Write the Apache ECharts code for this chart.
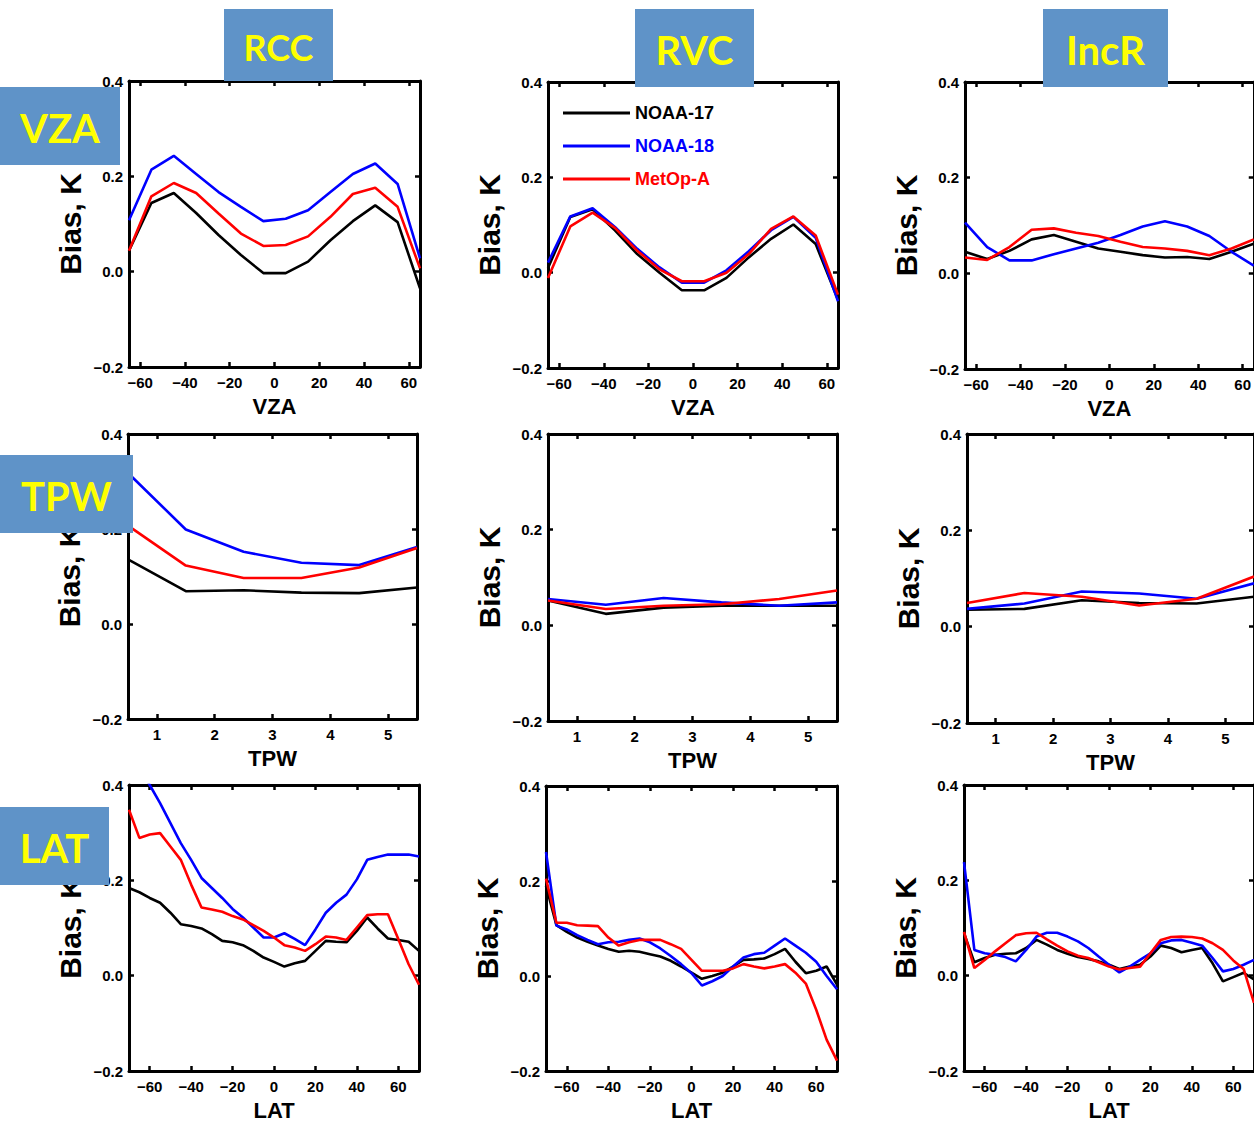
<!DOCTYPE html>
<html>
<head>
<meta charset="utf-8">
<script src="https://cdn.jsdelivr.net/npm/echarts@6/dist/echarts.min.js"></script>
<style>
html, body { margin: 0; padding: 0; background: #fff; }
#main { width: 1254px; height: 1122px; }
</style>
</head>
<body>
<div id="main"></div>
<script>
// x positions of the bins
var vzaX = [-65, -55, -45, -35, -25, -15, -5, 5, 15, 25, 35, 45, 55, 65];
var tpwX = [0.5, 1.5, 2.5, 3.5, 4.5, 5.5];
var latX = [-70, -65, -60, -55, -50, -45, -40, -35, -30, -25, -20, -15, -10, -5, 0,
            5, 10, 15, 20, 25, 30, 35, 40, 45, 50, 55, 60, 65, 70];

// tick labels
var vzaTicks = [-60, -40, -20, 0, 20, 40, 60];
var tpwTicks = [1, 2, 3, 4, 5];
var latTicks = [-60, -40, -20, 0, 20, 40, 60];
var biasTicks = [-0.2, 0.0, 0.2, 0.4];

// RCC vs VZA
var rccVzaN17 = [0.044, 0.144, 0.165, 0.123, 0.077, 0.035, -0.003, -0.003, 0.021, 0.066, 0.106, 0.139, 0.104, -0.035];
var rccVzaN18 = [0.108, 0.214, 0.243, 0.205, 0.167, 0.136, 0.106, 0.111, 0.129, 0.167, 0.205, 0.227, 0.184, 0.028];
var rccVzaMetop = [0.044, 0.158, 0.186, 0.165, 0.122, 0.080, 0.054, 0.056, 0.074, 0.115, 0.163, 0.176, 0.136, 0.007];
// RVC vs VZA
var rvcVzaN17 = [0.010, 0.117, 0.133, 0.089, 0.039, 0.000, -0.037, -0.037, -0.011, 0.032, 0.071, 0.101, 0.060, -0.057];
var rvcVzaN18 = [0.021, 0.118, 0.135, 0.096, 0.050, 0.011, -0.021, -0.021, 0.005, 0.045, 0.089, 0.117, 0.073, -0.060];
var rvcVzaMetop = [-0.011, 0.097, 0.126, 0.094, 0.046, 0.007, -0.018, -0.018, 0.000, 0.039, 0.092, 0.118, 0.078, -0.046];
// IncR vs VZA
var incVzaN17 = [0.045, 0.030, 0.047, 0.071, 0.080, 0.066, 0.052, 0.045, 0.038, 0.033, 0.034, 0.030, 0.045, 0.062];
var incVzaN18 = [0.106, 0.055, 0.027, 0.027, 0.040, 0.052, 0.064, 0.080, 0.098, 0.109, 0.098, 0.078, 0.045, 0.016];
var incVzaMetop = [0.033, 0.028, 0.055, 0.091, 0.094, 0.085, 0.078, 0.066, 0.055, 0.052, 0.047, 0.038, 0.052, 0.071];

// RCC vs TPW
var rccTpwN17 = [0.136, 0.069, 0.071, 0.066, 0.065, 0.077];
var rccTpwN18 = [0.318, 0.199, 0.152, 0.129, 0.124, 0.162];
var rccTpwMetop = [0.207, 0.123, 0.097, 0.097, 0.119, 0.160];
// RVC vs TPW
var rvcTpwN17 = [0.052, 0.024, 0.037, 0.041, 0.041, 0.041];
var rvcTpwN18 = [0.055, 0.043, 0.057, 0.048, 0.041, 0.048];
var rvcTpwMetop = [0.052, 0.034, 0.041, 0.044, 0.055, 0.073];
// IncR vs TPW
var incTpwN17 = [0.035, 0.037, 0.055, 0.049, 0.048, 0.062];
var incTpwN18 = [0.037, 0.048, 0.073, 0.069, 0.058, 0.090];
var incTpwMetop = [0.049, 0.070, 0.062, 0.044, 0.058, 0.104];

// RCC vs LAT
var rccLatN17 = [0.184, 0.175, 0.163, 0.153, 0.132, 0.108, 0.104, 0.099, 0.087, 0.073, 0.070, 0.064, 0.052, 0.038, 0.029,
                 0.019, 0.026, 0.031, 0.052, 0.073, 0.071, 0.070, 0.094, 0.122, 0.099, 0.078, 0.075, 0.071, 0.052];
var rccLatN18 = [0.470, 0.440, 0.400, 0.362, 0.320, 0.278, 0.243, 0.205, 0.184, 0.163, 0.140, 0.122, 0.101, 0.080, 0.080,
                 0.089, 0.077, 0.064, 0.097, 0.132, 0.153, 0.170, 0.202, 0.243, 0.249, 0.254, 0.254, 0.254, 0.250];
var rccLatMetop = [0.348, 0.289, 0.296, 0.299, 0.271, 0.243, 0.191, 0.143, 0.139, 0.134, 0.125, 0.118, 0.106, 0.094, 0.080,
                   0.064, 0.059, 0.052, 0.066, 0.082, 0.080, 0.075, 0.101, 0.127, 0.129, 0.129, 0.077, 0.024, -0.019];
// RVC vs LAT
var rvcLatN17 = [0.190, 0.107, 0.093, 0.081, 0.072, 0.064, 0.057, 0.051, 0.053, 0.051, 0.046, 0.041, 0.032, 0.020, 0.007,
                 -0.006, 0.000, 0.007, 0.020, 0.034, 0.035, 0.037, 0.046, 0.057, 0.030, 0.006, 0.011, 0.020, -0.018];
var rvcLatN18 = [0.261, 0.106, 0.098, 0.086, 0.076, 0.067, 0.071, 0.072, 0.076, 0.079, 0.071, 0.058, 0.042, 0.025, 0.006,
                 -0.020, -0.011, 0.000, 0.020, 0.039, 0.046, 0.049, 0.064, 0.079, 0.064, 0.049, 0.030, 0.000, -0.028];
var rvcLatMetop = [0.205, 0.112, 0.112, 0.107, 0.106, 0.105, 0.081, 0.064, 0.071, 0.076, 0.076, 0.076, 0.067, 0.057, 0.034,
                   0.011, 0.011, 0.011, 0.016, 0.025, 0.020, 0.016, 0.020, 0.025, 0.007, -0.016, -0.071, -0.134, -0.178];
// IncR vs LAT
var incLatN17 = [0.089, 0.028, 0.037, 0.044, 0.046, 0.047, 0.058, 0.075, 0.065, 0.054, 0.046, 0.039, 0.035, 0.030, 0.023,
                 0.014, 0.019, 0.023, 0.040, 0.063, 0.058, 0.049, 0.054, 0.058, 0.026, -0.012, -0.003, 0.006, -0.008];
var incLatN18 = [0.238, 0.054, 0.047, 0.044, 0.039, 0.030, 0.054, 0.082, 0.090, 0.090, 0.082, 0.072, 0.058, 0.040, 0.023,
                 0.007, 0.019, 0.033, 0.047, 0.068, 0.074, 0.075, 0.069, 0.063, 0.037, 0.009, 0.014, 0.023, 0.033];
var incLatMetop = [0.092, 0.016, 0.033, 0.051, 0.068, 0.085, 0.089, 0.090, 0.076, 0.063, 0.051, 0.042, 0.037, 0.028, 0.019,
                   0.013, 0.016, 0.019, 0.047, 0.075, 0.081, 0.082, 0.081, 0.078, 0.068, 0.054, 0.032, 0.014, -0.057];

var names = ['NOAA-17', 'NOAA-18', 'MetOp-A'];
var colors = ['#000000', '#0000ff', '#ff0000'];

var FONT = '"Liberation Sans", Arial, sans-serif';

function minus(s) {
    return String(s).replace('-', '\u2212');
}

var grids = [], xAxes = [], yAxes = [], series = [];

function addPanel(box, xs, xmin, xmax, xticks, xname, lines) {
    var i = grids.length;
    grids.push({ left: box[0], top: box[1], width: box[2], height: box[3], containLabel: false });
    var tick = { show: true, inside: true, length: 5, lineStyle: { color: '#000', width: 2.5 }, customValues: xticks };
    var line = { show: true, onZero: false, lineStyle: { color: '#000', width: 3 } };
    xAxes.push({
        type: 'value', gridIndex: i, position: 'bottom', min: xmin, max: xmax,
        axisLine: line, axisTick: tick, splitLine: { show: false },
        axisLabel: {
            customValues: xticks, margin: 8, color: '#000', fontFamily: FONT, fontWeight: 'bold', fontSize: 15,
            formatter: function (v) { return minus(v); }
        },
        name: xname, nameLocation: 'middle', nameGap: 28,
        nameTextStyle: { color: '#000', fontFamily: FONT, fontWeight: 'bold', fontSize: 22 }
    });
    xAxes.push({
        type: 'value', gridIndex: i, position: 'top', min: xmin, max: xmax,
        axisLine: line, axisTick: tick, axisLabel: { show: false }, splitLine: { show: false }
    });
    var ytick = { show: true, inside: true, length: 5, lineStyle: { color: '#000', width: 2.5 }, customValues: biasTicks };
    yAxes.push({
        type: 'value', gridIndex: i, position: 'left', min: -0.2, max: 0.4, interval: 0.2,
        axisLine: line, axisTick: ytick, splitLine: { show: false },
        axisLabel: {
            customValues: biasTicks, margin: 6, color: '#000', fontFamily: FONT, fontWeight: 'bold', fontSize: 15,
            formatter: function (v) { return minus(v.toFixed(1)); }
        },
        name: 'Bias, K', nameLocation: 'middle', nameGap: 44,
        nameTextStyle: { color: '#000', fontFamily: FONT, fontWeight: 'bold', fontSize: 30 }
    });
    yAxes.push({
        type: 'value', gridIndex: i, position: 'right', min: -0.2, max: 0.4, interval: 0.2,
        axisLine: line, axisTick: ytick, axisLabel: { show: false }, splitLine: { show: false }
    });
    lines.forEach(function (vals, k) {
        series.push({
            type: 'line', name: names[k], xAxisIndex: 2 * i, yAxisIndex: 2 * i,
            data: xs.map(function (x, j) { return [x, vals[j]]; }),
            showSymbol: false, symbol: 'none', clip: true, animation: false,
            lineStyle: { color: colors[k], width: 2.6 }, itemStyle: { color: colors[k] }
        });
    });
}

addPanel([129, 81, 291, 286], vzaX, -65, 65, vzaTicks, 'VZA', [rccVzaN17, rccVzaN18, rccVzaMetop]);
addPanel([548, 82, 290, 286], vzaX, -65, 65, vzaTicks, 'VZA', [rvcVzaN17, rvcVzaN18, rvcVzaMetop]);
addPanel([965, 82, 292, 287], vzaX, -65, 65, vzaTicks, 'VZA', [incVzaN17, incVzaN18, incVzaMetop]);
addPanel([128, 434, 289, 285], tpwX, 0.5, 5.5, tpwTicks, 'TPW', [rccTpwN17, rccTpwN18, rccTpwMetop]);
addPanel([548, 434, 289, 287], tpwX, 0.5, 5.5, tpwTicks, 'TPW', [rvcTpwN17, rvcTpwN18, rvcTpwMetop]);
addPanel([967, 434, 290, 289], tpwX, 0.5, 5.5, tpwTicks, 'TPW', [incTpwN17, incTpwN18, incTpwMetop]);
addPanel([129, 785, 290, 288], latX, -70, 70, latTicks, 'LAT', [rccLatN17, rccLatN18, rccLatMetop]);
addPanel([546, 786, 291, 287], latX, -70, 70, latTicks, 'LAT', [rvcLatN17, rvcLatN18, rvcLatMetop]);
addPanel([964, 785, 290, 288], latX, -70, 70, latTicks, 'LAT', [incLatN17, incLatN18, incLatMetop]);

// blue label boxes
var boxes = [
    ['RCC', 224, 9, 109, 72, 36],
    ['RVC', 635, 9, 119, 78, 40],
    ['IncR', 1043, 9, 125, 78, 40],
    ['VZA', 0, 87, 120, 78, 40],
    ['TPW', 0, 455, 133, 78, 40],
    ['LAT', 0, 807, 109, 78, 40]
];
var graphics = [];
boxes.forEach(function (b) {
    graphics.push({
        type: 'rect', z: 100, shape: { x: b[1], y: b[2], width: b[3], height: b[4] },
        style: { fill: '#5f93c8' }
    });
    graphics.push({
        type: 'text', z: 101,
        style: {
            text: b[0], x: b[1] + b[3] / 2, y: b[2] + b[4] / 2 + 2,
            textAlign: 'center', textVerticalAlign: 'middle',
            fill: '#ffff00', fontFamily: 'Lato, "Open Sans", sans-serif', fontWeight: 'bold', fontSize: b[5]
        }
    });
});

var myChart = echarts.init(document.getElementById('main'), null, { renderer: 'svg' });
myChart.setOption({
    animation: false,
    backgroundColor: '#ffffff',
    grid: grids,
    xAxis: xAxes,
    yAxis: yAxes,
    series: series,
    legend: {
        left: 558, top: 99, orient: 'vertical', icon: 'rect',
        itemWidth: 67, itemHeight: 3, itemGap: 15,
        textStyle: { fontFamily: FONT, fontWeight: 'bold', fontSize: 18, padding: [0, 0, 0, 0] },
        data: [
            { name: 'NOAA-17', textStyle: { color: '#000000' } },
            { name: 'NOAA-18', textStyle: { color: '#0000ff' } },
            { name: 'MetOp-A', textStyle: { color: '#ff0000' } }
        ]
    },
    graphic: graphics
});
</script>
</body>
</html>
